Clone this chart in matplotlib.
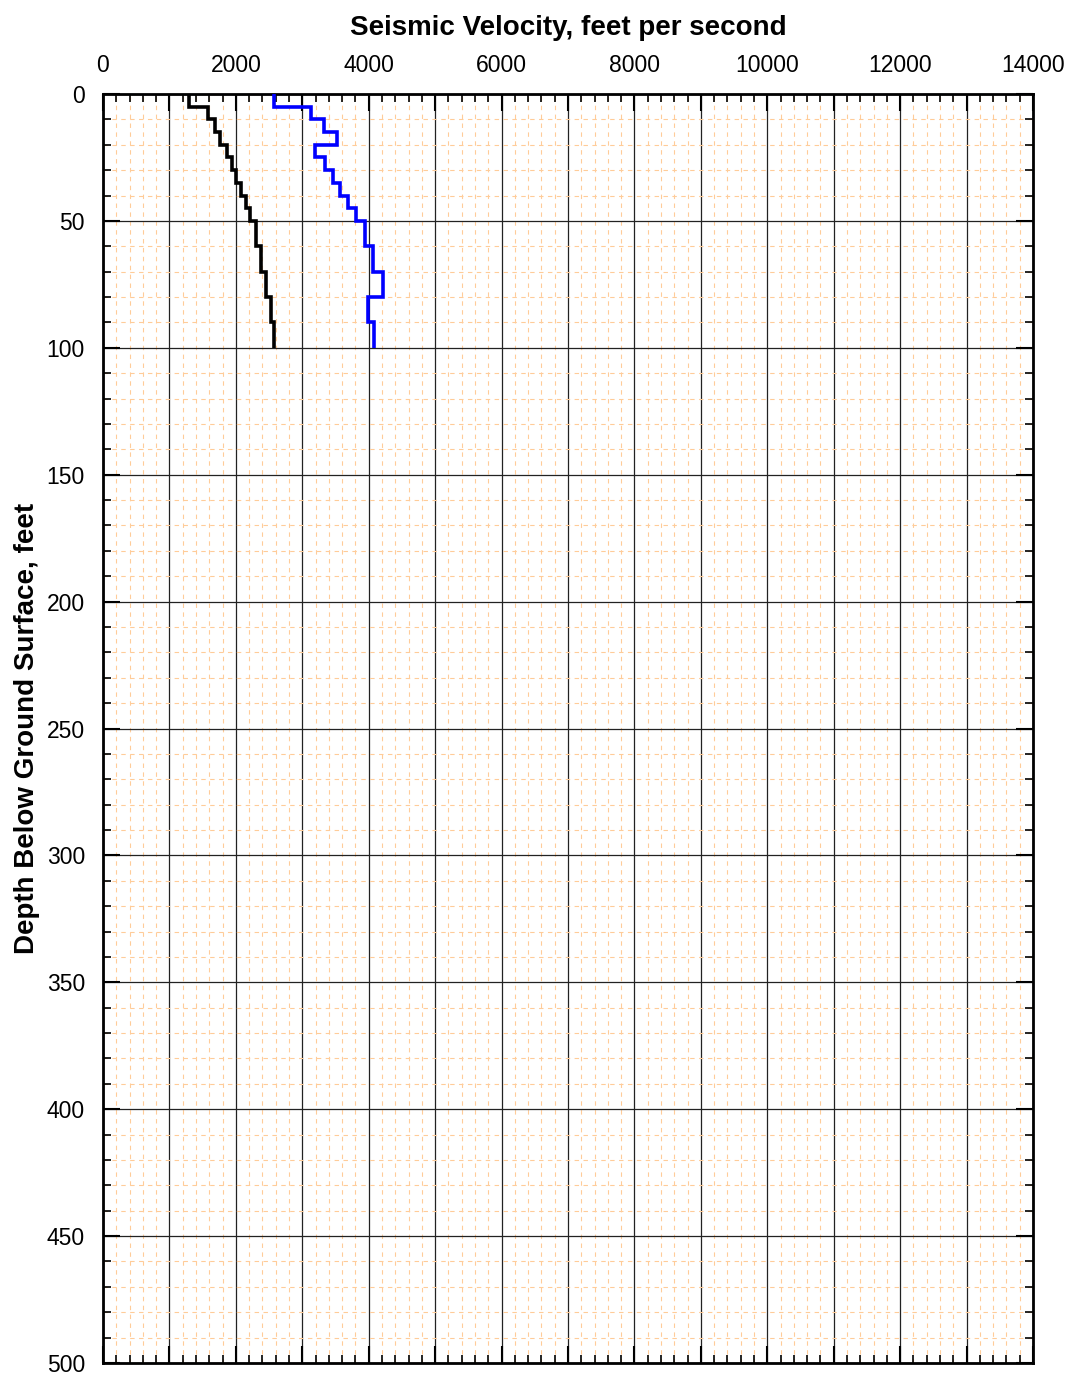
import numpy as np
import matplotlib.pyplot as plt
from matplotlib.ticker import MultipleLocator, FuncFormatter

plt.rcParams['font.family'] = ['Liberation Sans', 'DejaVu Sans']

# layer boundaries, feet below ground surface
depth_edges = [0, 5, 10, 15, 20, 25, 30, 35, 40, 45, 50, 60, 70, 80, 90, 100]
# velocity in each layer, feet per second
vel_black = [1300, 1580, 1680, 1760, 1860, 1950, 2010, 2080, 2150, 2210,
             2300, 2380, 2450, 2530, 2580]
vel_blue = [2580, 3130, 3320, 3530, 3190, 3340, 3470, 3570, 3690, 3810,
            3940, 4070, 4220, 3990, 4080]

fig = plt.figure(figsize=(10.68, 13.73), dpi=100)
ax = fig.add_axes([0.0964, 0.0073, 0.8708, 0.9242])

ax.stairs(vel_black, depth_edges, orientation='horizontal', baseline=None,
          color='black', lw=2.6, zorder=5)
ax.stairs(vel_blue, depth_edges, orientation='horizontal', baseline=None,
          color='#0000FF', lw=2.6, zorder=5)

ax.set_xlim(0, 14000)
ax.set_ylim(500, 0)

ax.xaxis.set_major_locator(MultipleLocator(1000))
ax.xaxis.set_minor_locator(MultipleLocator(200))
ax.yaxis.set_major_locator(MultipleLocator(50))
ax.yaxis.set_minor_locator(MultipleLocator(10))
ax.xaxis.set_major_formatter(FuncFormatter(
    lambda v, p: '%d' % v if int(round(v)) % 2000 == 0 else ''))

ax.grid(which='major', color='#222222', lw=0.9, ls='-')
ax.grid(which='minor', color='#FFCC99', lw=0.8, ls=(0, (4, 4)))
ax.set_axisbelow(True)

ax.xaxis.tick_top()
ax.xaxis.set_label_position('top')
ax.tick_params(which='both', direction='in', top=True, bottom=True,
               left=True, right=True, labelbottom=False, labeltop=True,
               labelsize=16.5, color='black')
ax.tick_params(axis='x', which='major', length=12, width=1.5, pad=12)
ax.tick_params(axis='y', which='major', length=12, width=1.5, pad=13)
ax.tick_params(which='minor', length=6, width=1.2)

for s in ax.spines.values():
    s.set_linewidth(2)

ax.set_xlabel('Seismic Velocity, feet per second', fontsize=20,
              fontweight='bold', labelpad=14)
ax.set_ylabel('Depth Below Ground Surface, feet', fontsize=20,
              fontweight='bold', labelpad=5)

fig.savefig('out.png', dpi=100)
